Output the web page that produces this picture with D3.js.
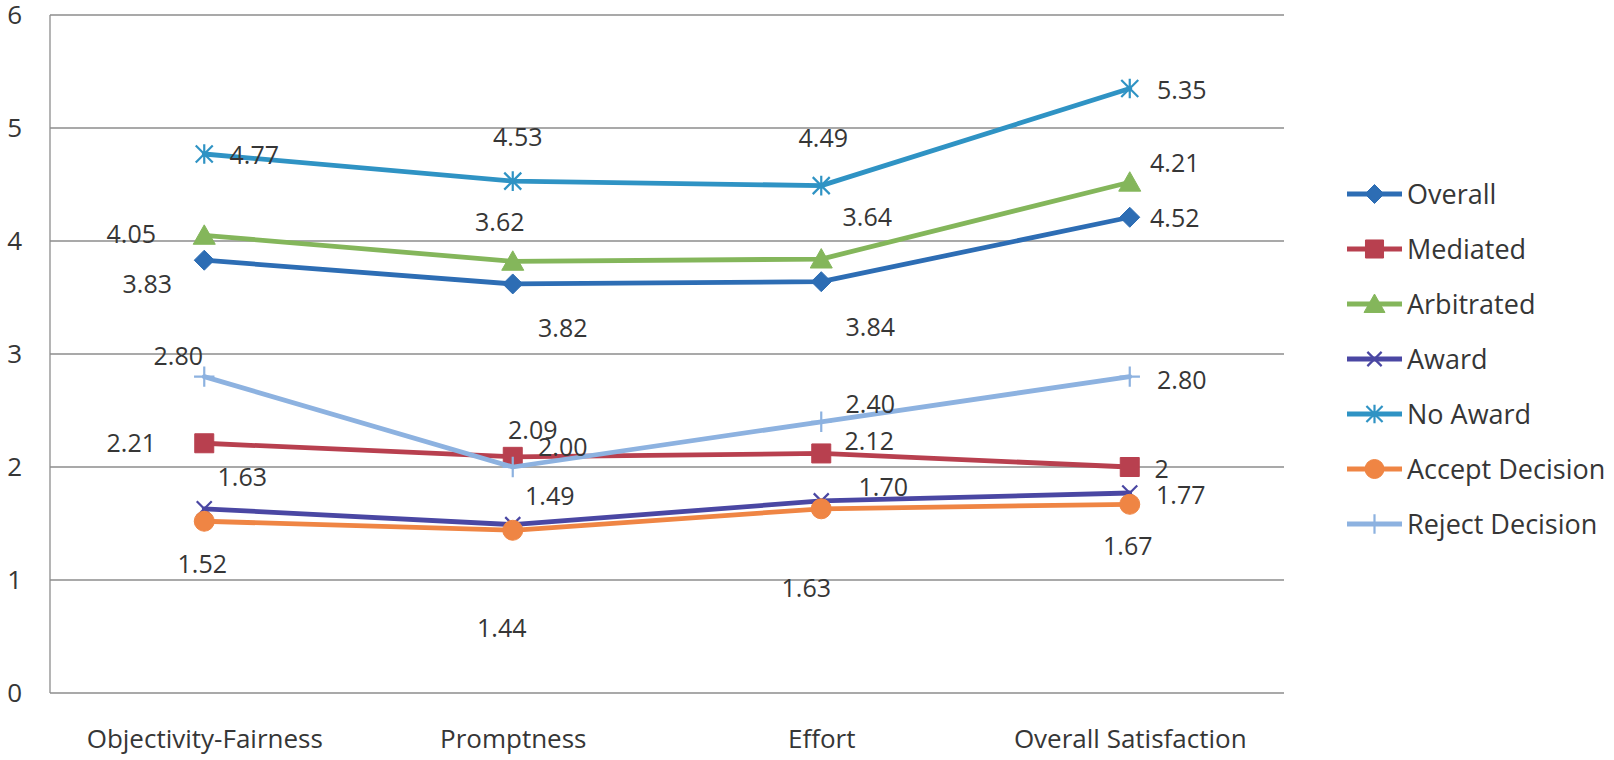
<!DOCTYPE html>
<html>
<head>
<meta charset="utf-8">
<script src="https://cdn.jsdelivr.net/npm/d3@7"></script>
<style>
  html, body { margin: 0; padding: 0; background: #fff; }
  svg { display: block; }
  text { font-family: "Open Sans", "Noto Sans", sans-serif; fill: #363636; }
</style>
</head>
<body>
<svg id="chart" width="1614" height="760"></svg>
<script>
// ---- data ----
const categories = ["Objectivity-Fairness", "Promptness", "Effort", "Overall Satisfaction"];
const seriesNames = ["Overall", "Mediated", "Arbitrated", "Award", "No Award", "Accept Decision", "Reject Decision"];
const overall        = [3.83, 3.62, 3.64, 4.21];
const mediated       = [2.21, 2.09, 2.12, 2];
const arbitrated     = [4.05, 3.82, 3.84, 4.52];
const award          = [1.63, 1.49, 1.70, 1.77];
const noAward        = [4.77, 4.53, 4.49, 5.35];
const acceptDecision = [1.52, 1.44, 1.63, 1.67];
const rejectDecision = [2.80, 2.00, 2.40, 2.80];
const yTicks = [0, 1, 2, 3, 4, 5, 6];
// decimals shown in each value label (Mediated's last point is printed as a whole number)
const labelDecimals = {
  "Mediated": [2, 2, 2, 0]
};

const seriesValues = [overall, mediated, arbitrated, award, noAward, acceptDecision, rejectDecision];

// ---- styling ----
const colors = {
  "Overall": "#2d6db4",
  "Mediated": "#b8404f",
  "Arbitrated": "#84b65b",
  "Award": "#4a47a3",
  "No Award": "#2f93c4",
  "Accept Decision": "#ef8544",
  "Reject Decision": "#8db2e0"
};
const markerOf = {
  "Overall": "diamond",
  "Mediated": "square",
  "Arbitrated": "triangle",
  "Award": "x",
  "No Award": "star",
  "Accept Decision": "circle",
  "Reject Decision": "plus"
};
// label placement relative to its point: [dx, dy] of the text centre, in px
const labelOffsets = {
  "Overall":         [[-57, 24], [-13, -62], [46, -65], [45, -54]],
  "Mediated":        [[-73, 0], [20, -27], [48, -12], [32, 2]],
  "Arbitrated":      [[-73, -1], [50, 67], [49, 68], [45, 36]],
  "Award":           [[38, -32], [37, -29], [62, -14], [51, 2]],
  "No Award":        [[50, 1], [5, -44], [2, -48], [52, 2]],
  "Accept Decision": [[-2, 43], [-11, 98], [-15, 79], [-2, 42]],
  "Reject Decision": [[-26, -21], [50, -20], [49, -18], [52, 3]]
};

const plot = { left: 50, right: 1284, top: 15, bottom: 693 };

const svg = d3.select("#chart");

const x = d3.scalePoint().domain(categories).range([plot.left, plot.right]).padding(0.5);
const y = d3.scaleLinear().domain([0, 6]).range([plot.bottom, plot.top]);

// ---- gridlines & axes ----
const gridColor = "#8d8d8d";
svg.append("g")
  .selectAll("line")
  .data(yTicks)
  .join("line")
  .attr("x1", plot.left).attr("x2", plot.right)
  .attr("y1", d => y(d)).attr("y2", d => y(d))
  .attr("stroke", gridColor).attr("stroke-width", 1.3);

svg.append("line")
  .attr("x1", plot.left).attr("x2", plot.left)
  .attr("y1", y(6)).attr("y2", y(0))
  .attr("stroke", gridColor).attr("stroke-width", 1.3);

const yAxis = d3.axisLeft(y).tickValues(yTicks).tickFormat(d3.format("d")).tickSize(0).tickPadding(28);
const gy = svg.append("g").attr("transform", `translate(${plot.left},0)`).call(yAxis);
gy.select(".domain").remove();
gy.selectAll("text").style("font-size", "26px").attr("fill", "#363636").attr("dy", "0.34em");

const xAxis = d3.axisBottom(x).tickSize(0).tickPadding(0);
const gx = svg.append("g").attr("transform", `translate(0,${plot.bottom})`).call(xAxis);
gx.select(".domain").remove();
gx.selectAll("text").style("font-size", "26px").attr("fill", "#363636").attr("dy", null).attr("y", 55);

// ---- marker shapes ----
function markerPath(kind, s) {
  const p = d3.path();
  switch (kind) {
    case "diamond":
      p.moveTo(0, -s); p.lineTo(s, 0); p.lineTo(0, s); p.lineTo(-s, 0); p.closePath(); break;
    case "square":
      p.rect(-s, -s, 2 * s, 2 * s); break;
    case "triangle":
      p.moveTo(0, -s); p.lineTo(s * 1.05, s * 0.85); p.lineTo(-s * 1.05, s * 0.85); p.closePath(); break;
    case "circle":
      p.arc(0, 0, s, 0, 2 * Math.PI); break;
    case "x":
      p.moveTo(-s, -s); p.lineTo(s, s); p.moveTo(s, -s); p.lineTo(-s, s); break;
    case "star":
      p.moveTo(-s, -s); p.lineTo(s, s); p.moveTo(s, -s); p.lineTo(-s, s);
      p.moveTo(0, -s * 1.15); p.lineTo(0, s * 1.15); break;
    case "plus":
      p.moveTo(-s * 1.2, 0); p.lineTo(s * 1.2, 0); p.moveTo(0, -s * 1.2); p.lineTo(0, s * 1.2); break;
  }
  return p.toString();
}
const strokeOnly = new Set(["x", "star", "plus"]);
const markerSize = { diamond: 10, square: 9.5, triangle: 10.5, circle: 10, x: 7.5, star: 8.5, plus: 8.5 };

function drawMarker(g, kind, color, scale) {
  const s = markerSize[kind] * scale;
  const path = g.append("path").attr("d", markerPath(kind, s));
  if (strokeOnly.has(kind)) {
    path.attr("fill", "none").attr("stroke", color).attr("stroke-width", 2.2);
  } else {
    path.attr("fill", color).attr("stroke", color).attr("stroke-width", 1);
  }
}

// ---- series lines & markers ----
const line = d3.line()
  .x((d, i) => x(categories[i]))
  .y(d => y(d));

const series = seriesNames.map((name, k) => ({ name, values: seriesValues[k] }));

const gSeries = svg.append("g");
series.forEach(s => {
  const g = gSeries.append("g");
  g.append("path")
    .datum(s.values)
    .attr("d", line)
    .attr("fill", "none")
    .attr("stroke", colors[s.name])
    .attr("stroke-width", 4.8)
    .attr("stroke-linejoin", "round")
    .attr("stroke-linecap", "round");
  s.values.forEach((v, i) => {
    const mg = g.append("g").attr("transform", `translate(${x(categories[i])},${y(v)})`);
    drawMarker(mg, markerOf[s.name], colors[s.name], 1);
  });
});

// ---- value labels ----
const gLabels = svg.append("g");
series.forEach(s => {
  s.values.forEach((v, i) => {
    const dec = (labelDecimals[s.name] || [])[i] ?? 2;
    const [dx, dy] = labelOffsets[s.name][i];
    gLabels.append("text")
      .attr("x", x(categories[i]) + dx)
      .attr("y", y(v) + dy)
      .attr("dy", "0.36em")
      .attr("text-anchor", "middle")
      .style("font-size", "25px")
      .text(v.toFixed(dec));
  });
});

// ---- legend ----
const legend = svg.append("g").attr("transform", "translate(1347,194)");
series.forEach((s, k) => {
  const row = legend.append("g").attr("transform", `translate(0,${k * 55})`);
  row.append("line")
    .attr("x1", 0).attr("x2", 55).attr("y1", 0).attr("y2", 0)
    .attr("stroke", colors[s.name]).attr("stroke-width", 4.8);
  const mg = row.append("g").attr("transform", "translate(27.5,0)");
  drawMarker(mg, markerOf[s.name], colors[s.name], 0.95);
  row.append("text")
    .attr("x", 60).attr("y", 0).attr("dy", "0.36em")
    .style("font-size", "27px")
    .text(s.name);
});
</script>
</body>
</html>
